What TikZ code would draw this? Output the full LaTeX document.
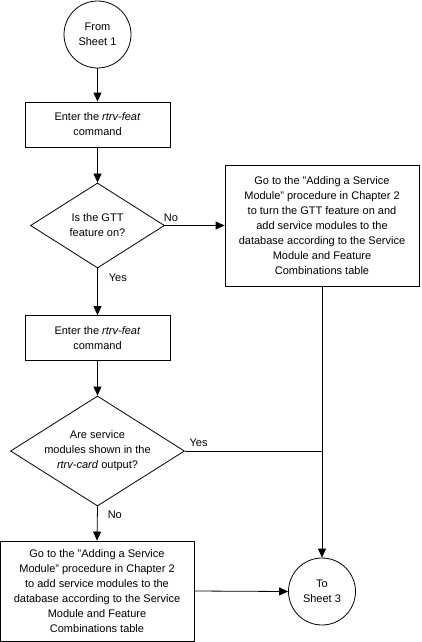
\documentclass[tikz,border=0pt]{standalone}
\usepackage{fontspec}
\setmainfont{Liberation Sans}
\usetikzlibrary{shapes.geometric,arrows.meta}
\begin{document}
\begin{tikzpicture}[x=1pt,y=-1pt,
  every node/.style={font=\fontsize{11}{15}\selectfont},
  proc/.style={draw,thick,rectangle,align=center,inner sep=0pt},
  term/.style={draw,thick,circle,align=center,minimum size=67pt,inner sep=0pt},
  dec/.style={draw,thick,diamond,inner sep=0pt},
  lbl/.style={inner sep=0pt},
  conn/.style={thick,-{Triangle[length=9pt,width=8pt]}},
  plain/.style={thick}]
\useasboundingbox (0,0) rectangle (421,642);
\node[term] (s1) at (97.5,34.5) {From\\Sheet 1};
\node[proc,minimum width=145pt,minimum height=45pt] (b1) at (97.5,124.5) {Enter the \textit{rtrv-feat}\\command};
\node[dec,minimum width=134pt,minimum height=85pt] (d1) at (97.5,225.5) {};
\node[lbl,align=center] (d1t) at (d1.center) {Is the GTT\\feature on?};
\node[proc,minimum width=194pt,minimum height=121pt] (g) at (322,225.5) {Go to the "Adding a Service\\Module" procedure in Chapter 2\\to turn the GTT feature on and\\add service modules to the\\database according to the Service\\Module and Feature\\Combinations table};
\node[proc,minimum width=145pt,minimum height=45pt] (b2) at (97.5,338) {Enter the \textit{rtrv-feat}\\command};
\node[dec,minimum width=174pt,minimum height=110pt] (d2) at (97.5,451) {};
\node[lbl,align=center] (d2t) at (d2.center) {Are service\\modules shown in the\\\textit{rtrv-card} output?};
\node[proc,minimum width=194pt,minimum height=100pt] (b3) at (97,591) {Go to the "Adding a Service\\Module" procedure in Chapter 2\\to add service modules to the\\database according to the Service\\Module and Feature\\Combinations table};
\node[term] (s3) at (322,591.5) {To\\Sheet 3};
\coordinate (j) at (322,451);
\draw[conn] (s1) -- (b1);
\draw[conn] (b1) -- (d1);
\draw[conn] (d1.east) -- (g.west) node[lbl,pos=0.1,above=3pt] (no1) {No};
\draw[conn] (d1.south) -- (b2.north) node[lbl,pos=0.21,right=11pt] (yes1) {Yes};
\draw[conn] (b2) -- (d2);
\draw[plain] (d2.east) -- (j) node[lbl,pos=0.1,above=4pt] (yes2) {Yes};
\draw[conn] (g.south) -- (s3.north);
\draw[conn] (d2.south) -- (b3.north) node[lbl,pos=0.25,right=10pt] (no2) {No};
\draw[conn] (b3.east) -- (s3.west);
\end{tikzpicture}
\end{document}
